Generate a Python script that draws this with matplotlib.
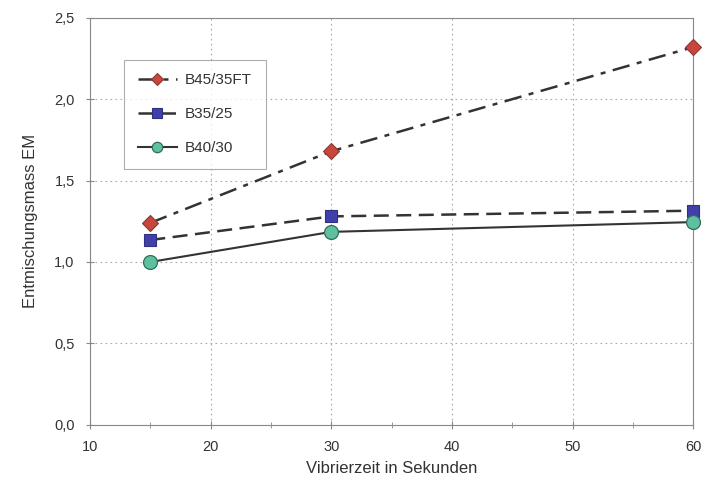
import matplotlib
matplotlib.use("Agg")
import matplotlib.pyplot as plt
from matplotlib.ticker import MultipleLocator

plt.rcParams['font.family'] = ['Liberation Sans', 'DejaVu Sans']

x = [15, 30, 60]
b45 = [1.24, 1.68, 2.32]
b35 = [1.135, 1.28, 1.315]
b40 = [1.0, 1.185, 1.245]
labels = ["B45/35FT", "B35/25", "B40/30"]

fig = plt.figure(figsize=(7.14, 4.8), dpi=100)
ax = fig.add_axes([0.126, 0.115, 0.845, 0.848])

line_col = '#333333'
ax.plot(x, b45, color=line_col, lw=1.8, linestyle=(0, (7, 3, 2, 3)),
        marker='D', markersize=8, markerfacecolor='#C8463C', markeredgecolor='#8A3A30',
        markeredgewidth=0.8, label=labels[0], zorder=3, clip_on=False)
ax.plot(x, b35, color=line_col, lw=1.8, linestyle=(0, (6, 3)),
        marker='s', markersize=9, markerfacecolor='#4040A8', markeredgecolor='#303080',
        markeredgewidth=0.8, label=labels[1], zorder=3, clip_on=False)
ax.plot(x, b40, color=line_col, lw=1.5, linestyle='-',
        marker='o', markersize=10, markerfacecolor='#5FC0A0', markeredgecolor='#2E6E5E',
        markeredgewidth=0.9, label=labels[2], zorder=3, clip_on=False)

ax.set_xlim(10, 60)
ax.set_ylim(0, 2.5)
ax.xaxis.set_major_locator(MultipleLocator(10))
ax.xaxis.set_minor_locator(MultipleLocator(5))
ax.set_yticks([0, 0.5, 1.0, 1.5, 2.0, 2.5])
ax.set_yticklabels([f"{v:.1f}".replace('.', ',') for v in ax.get_yticks()])
ax.grid(True, which='major', color='#AAAAAA', linestyle=(0, (1.5, 3)), lw=0.8)
for s in ax.spines.values():
    s.set_color('#888888')
    s.set_linewidth(0.8)
ax.tick_params(which='both', direction='inout', color='#888888', labelsize=10.5, labelcolor='#333333')
ax.tick_params(which='major', length=6)
ax.tick_params(which='minor', length=4)
ax.tick_params(axis='x', pad=8)
ax.tick_params(axis='y', pad=8)

ax.set_xlabel("Vibrierzeit in Sekunden", fontsize=12, color='#333333', labelpad=5)
ax.set_ylabel("Entmischungsmass EM", fontsize=12, color='#333333', labelpad=12)

leg = ax.legend(loc='upper left', bbox_to_anchor=(0.056, 0.897), fontsize=11,
                frameon=True, fancybox=False, edgecolor='#999999', labelspacing=1.3,
                handlelength=2.6, borderpad=0.9, handletextpad=0.5, markerscale=0.75,
                borderaxespad=0)
leg.get_frame().set_linewidth(0.8)
for t in leg.get_texts():
    t.set_color('#333333')

fig.savefig("out.png", dpi=100, facecolor='white')
